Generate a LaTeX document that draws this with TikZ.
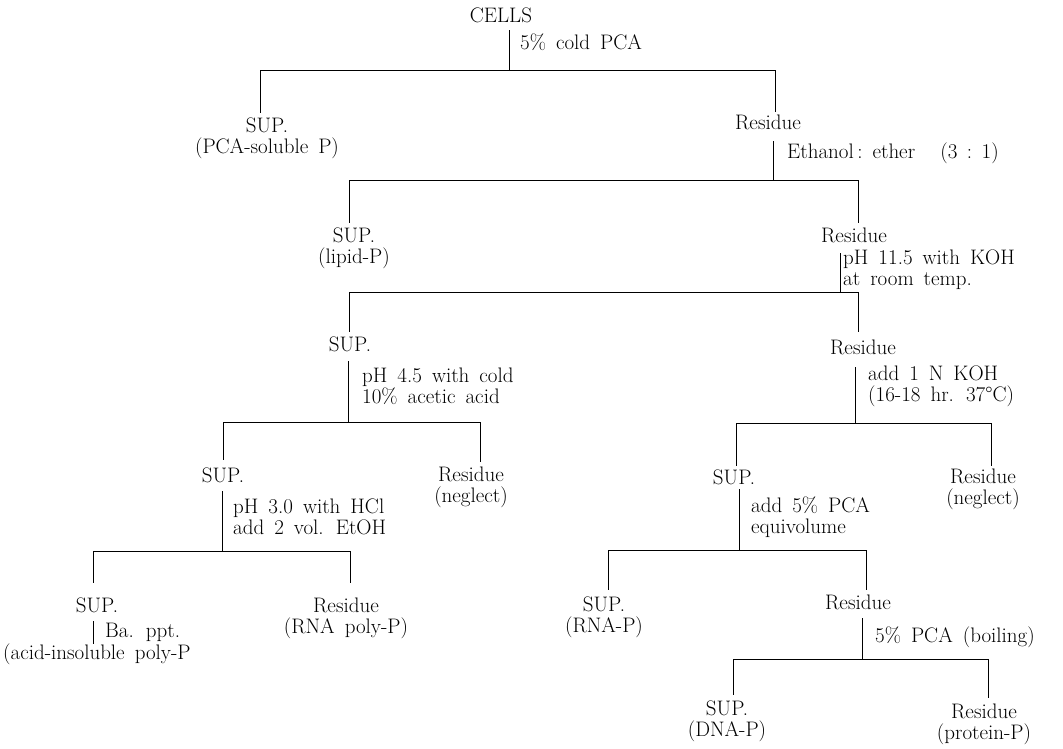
\documentclass[tikz,border=0pt]{standalone}
\newcommand\dfont{\fontsize{21}{21}\selectfont\spaceskip=10pt plus 2pt minus 1pt\relax}
\begin{document}
\begin{tikzpicture}[x=1pt,y=-1pt,
  lbl/.style={font=\dfont,inner sep=0pt,anchor=north,align=center},
  cond/.style={font=\dfont,inner sep=0pt,anchor=north west,align=left},
  wire/.style={line width=0.8pt,black}]
\useasboundingbox[fill=white] (0,0) rectangle (1063,748);

% ---------- product nodes ----------
\node[lbl] (cells) at (501,8)   {CELLS};
\node[lbl] (sup1)  at (267,118) {SUP.\\(PCA-soluble P)};
\node[lbl] (res1)  at (768,115) {Residue};
\node[lbl] (sup2)  at (354,228) {SUP.\\(lipid-P)};
\node[lbl] (res2)  at (854,228) {Residue};
\node[lbl] (sup3)  at (350,337) {SUP.};
\node[lbl] (res3)  at (863,340) {Residue};
\node[lbl] (sup4)  at (223,468) {SUP.};
\node[lbl] (res4)  at (471,467) {Residue\\(neglect)};
\node[lbl] (sup5)  at (734,470) {SUP.};
\node[lbl] (res5)  at (983,469) {Residue\\(neglect)};
\node[lbl] (sup6)  at (97,598)  {SUP.};
\node[lbl] (res6)  at (346,598) {Residue\\(RNA poly-P)};
\node[lbl] (sup7)  at (604,597) {SUP.\\(RNA-P)};
\node[lbl] (res7)  at (858,595) {Residue};
\node[lbl,anchor=north west] (ppt) at (3,644) {(acid-insoluble poly-P};
\node[lbl] (sup9)  at (727,701) {SUP.\\(DNA-P)};
\node[lbl] (res9)  at (984,704) {Residue\\(protein-P)};

% ---------- treatment labels ----------
\node[cond] (c1) at (520,34)  {5\% cold PCA};
\node[cond] (c2) at (787,143) {Ethanol\,:\ ether\hspace{1.2em}(3\hspace{0.45em}:\hspace{0.45em}1)};
\node[cond] (c3) at (843,250) {pH 11.5 with KOH\\at room temp.};
\node[cond] (c4) at (362,368) {pH 4.5 with cold\\10\% acetic acid};
\node[cond] (c5) at (868,366) {add 1 N KOH\\(16-18 hr. 37°C)};
\node[cond] (c6) at (233,499) {pH 3.0 with HCl\\add 2 vol. EtOH};
\node[cond] (c7) at (751,497) {add 5\% PCA\\equivolume};
\node[cond] (c8) at (105,623) {Ba. ppt.};
\node[cond] (c9) at (875,627) {5\% PCA (boiling)};

% ---------- split 1 : CELLS ----------
\coordinate (j1) at (509,70); \coordinate (b1l) at (260,70); \coordinate (b1r) at (775,70);
\draw[wire] ([yshift=-7pt]cells.south -| j1) -- (j1);
\draw[wire] (b1l) -- (b1r);
\draw[wire] (b1l) -- ([yshift=5pt]sup1.north -| b1l);
\draw[wire] (b1r) -- ([yshift=3pt]res1.north -| b1r);

% ---------- split 2 : Residue 1 ----------
\coordinate (j2) at (773,180); \coordinate (b2l) at (349,180); \coordinate (b2r) at (858,180);
\draw[wire] ([yshift=-11pt]res1.south -| j2) -- (j2);
\draw[wire] (b2l) -- (b2r);
\draw[wire] (b2l) -- ([yshift=5pt]sup2.north -| b2l);
\draw[wire] (b2r) -- ([yshift=5pt]res2.north -| b2r);

% ---------- split 3 : Residue 2 ----------
\coordinate (j3) at (840,292); \coordinate (b3l) at (349,292); \coordinate (b3r) at (858,292);
\draw[wire] ([yshift=-10pt]res2.south -| j3) -- (j3);
\draw[wire] (b3l) -- (b3r);
\draw[wire] (b3l) -- ([yshift=5pt]sup3.north -| b3l);
\draw[wire] (b3r) -- ([yshift=8pt]res3.north -| b3r);

% ---------- split 4 : SUP 3 ----------
\coordinate (j4) at (348,422); \coordinate (b4l) at (223,422); \coordinate (b4r) at (480,422);
\draw[wire] ([yshift=-9pt]sup3.south -| j4) -- (j4);
\draw[wire] (b4l) -- (b4r);
\draw[wire] (b4l) -- ([yshift=8pt]sup4.north -| b4l);
\draw[wire] (b4r) -- ([yshift=5pt]res4.north -| b4r);

% ---------- split 5 : Residue 3 ----------
\coordinate (j5) at (855,423); \coordinate (b5l) at (736,423); \coordinate (b5r) at (991,423);
\draw[wire] ([yshift=-12pt]res3.south -| j5) -- (j5);
\draw[wire] (b5l) -- (b5r);
\draw[wire] (b5l) -- ([yshift=4pt]sup5.north -| b5l);
\draw[wire] (b5r) -- ([yshift=3pt]res5.north -| b5r);

% ---------- split 6 : SUP 4 ----------
\coordinate (j6) at (222,551); \coordinate (b6l) at (93,551); \coordinate (b6r) at (350,551);
\draw[wire] ([yshift=-8pt]sup4.south -| j6) -- (j6);
\draw[wire] (b6l) -- (b6r);
\draw[wire] (b6l) -- ([yshift=15pt]sup6.north -| b6l);
\draw[wire] (b6r) -- ([yshift=15pt]res6.north -| b6r);

% ---------- split 7 : SUP 5 ----------
\coordinate (j7) at (739,550); \coordinate (b7l) at (608,550); \coordinate (b7r) at (866,550);
\draw[wire] ([yshift=-4pt]sup5.south -| j7) -- (j7);
\draw[wire] (b7l) -- (b7r);
\draw[wire] (b7l) -- ([yshift=7pt]sup7.north -| b7l);
\draw[wire] (b7r) -- ([yshift=5pt]res7.north -| b7r);

% ---------- SUP 6 -> Ba. ppt ----------
\draw[wire] ([yshift=-8pt]sup6.south -| 93,0) -- (ppt.north -| 93,0);

% ---------- split 9 : Residue 7 ----------
\coordinate (j9) at (862,659); \coordinate (b9l) at (733,659); \coordinate (b9r) at (988,659);
\draw[wire] ([yshift=-8pt]res7.south -| j9) -- (j9);
\draw[wire] (b9l) -- (b9r);
\draw[wire] (b9l) -- ([yshift=6pt]sup9.north -| b9l);
\draw[wire] (b9r) -- ([yshift=6pt]res9.north -| b9r);
\end{tikzpicture}
\end{document}
